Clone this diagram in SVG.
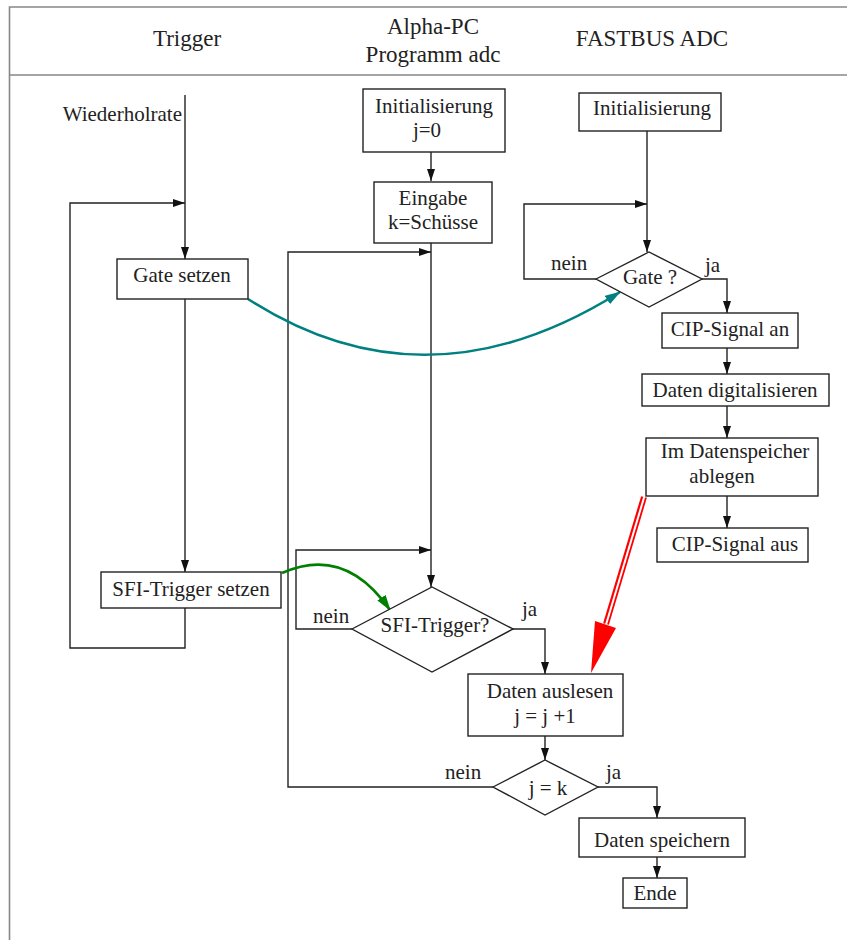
<svg xmlns="http://www.w3.org/2000/svg" width="847" height="940" viewBox="0 0 847 940" font-family="'Liberation Serif', 'DejaVu Serif', serif">
<style>
text{font-family:'Liberation Serif','DejaVu Serif',serif;font-size:21px;fill:#222}
.h{font-size:23px}
.c{text-anchor:middle}
.box{fill:#fff;stroke:#222;stroke-width:1.4}
.ln{fill:none;stroke:#222;stroke-width:1.4}
.frame{fill:none;stroke:#888;stroke-width:1.6}
</style>
<defs>
<marker id="a" markerWidth="12" markerHeight="8" refX="12" refY="4" orient="auto" markerUnits="userSpaceOnUse"><path d="M0,0 L12,4 L0,8 z" fill="#111"/></marker>
<marker id="t" markerWidth="16" markerHeight="10" refX="15" refY="5" orient="auto" markerUnits="userSpaceOnUse"><path d="M0,0 L16,5 L0,10 z" fill="#008080"/></marker>
<marker id="g" markerWidth="16" markerHeight="10" refX="15" refY="5" orient="auto" markerUnits="userSpaceOnUse"><path d="M0,0 L16,5 L0,10 z" fill="#008000"/></marker>
</defs>

<g id="frame">
<path class="frame" d="M847,7 H9.5 V940 M9.5,75 H847"/>
<text class="h c" x="187" y="46">Trigger</text>
<text class="h c" x="433" y="34">Alpha-PC</text>
<text class="h c" x="433" y="62">Programm adc</text>
<text class="h c" x="652" y="46">FASTBUS ADC</text>
</g>

<g id="connectors">
<path class="ln" d="M185,95 V259" marker-end="url(#a)"/>
<path class="ln" d="M185,608 V648 H70 V203 H185" marker-end="url(#a)"/>
<path class="ln" d="M185,299 V572" marker-end="url(#a)"/>
<path class="ln" d="M431,152 V181" marker-end="url(#a)"/>
<path class="ln" d="M431,243 V587" marker-end="url(#a)"/>
<path class="ln" d="M493,787 H288 V252 H431" marker-end="url(#a)"/>
<path class="ln" d="M352,629 H296 V550 H431" marker-end="url(#a)"/>
<path class="ln" d="M513,629 H545 V674" marker-end="url(#a)"/>
<path class="ln" d="M545,736 V760" marker-end="url(#a)"/>
<path class="ln" d="M598,787 H657 V818" marker-end="url(#a)"/>
<path class="ln" d="M657,857 V878" marker-end="url(#a)"/>
<path class="ln" d="M647,131 V252" marker-end="url(#a)"/>
<path class="ln" d="M596,279 H524 V204 H647" marker-end="url(#a)"/>
<path class="ln" d="M702,279 H727 V313" marker-end="url(#a)"/>
<path class="ln" d="M727,348 V374" marker-end="url(#a)"/>
<path class="ln" d="M727,406 V438" marker-end="url(#a)"/>
<path class="ln" d="M727,496 V528" marker-end="url(#a)"/>
<path d="M248,299 Q426,414 620,292" fill="none" stroke="#008080" stroke-width="2.6" marker-end="url(#t)"/>
<path d="M282,573 Q345,545 390,610" fill="none" stroke="#008000" stroke-width="2.6" marker-end="url(#g)"/>
<path d="M644,497 L606,624" fill="none" stroke="#f00" stroke-width="6"/>
<path d="M644.5,496 L605,628" fill="none" stroke="#fff" stroke-width="2"/>
<path d="M591,673 L616,628 L595,621 z" fill="#f00"/>
</g>

<g id="n-wiederholrate"><text x="182" y="121" text-anchor="end">Wiederholrate</text></g>
<g id="n-gate-setzen"><rect class="box" x="117" y="259" width="131" height="40"/><text class="c" x="182" y="282">Gate setzen</text></g>
<g id="n-sfi-setzen"><rect class="box" x="101" y="572" width="180" height="36"/><text class="c" x="191" y="596">SFI-Trigger setzen</text></g>

<g id="n-init-pc"><rect class="box" x="363" y="89" width="142" height="63"/><text class="c" x="434" y="113">Initialisierung</text><text class="c" x="427" y="137">j=0</text></g>
<g id="n-eingabe"><rect class="box" x="374" y="182" width="118" height="61"/><text class="c" x="433" y="205">Eingabe</text><text class="c" x="433" y="229">k=Schüsse</text></g>
<g id="n-sfi-q"><polygon class="box" points="352,629 432,587 513,629 432,672"/><text class="c" x="435" y="632">SFI-Trigger?</text>
<text x="313" y="623">nein</text><text x="522" y="616">ja</text></g>
<g id="n-auslesen"><rect class="box" x="468" y="674" width="155" height="62"/><text class="c" x="550" y="698">Daten auslesen</text><text class="c" x="545" y="723">j = j +1</text></g>
<g id="n-jk"><polygon class="box" points="493,787 545,760 598,787 545,815"/><text class="c" x="548" y="795">j = k</text>
<text x="445" y="779">nein</text><text x="606" y="779">ja</text></g>
<g id="n-speichern"><rect class="box" x="579" y="818" width="166" height="39"/><text class="c" x="662" y="847">Daten speichern</text></g>
<g id="n-ende"><rect class="box" x="623" y="878" width="64" height="30"/><text class="c" x="655" y="900">Ende</text></g>

<g id="n-init-adc"><rect class="box" x="579" y="93" width="142" height="38"/><text class="c" x="652" y="115">Initialisierung</text></g>
<g id="n-gate-q"><polygon class="box" points="596,279 649,252 702,279 649,307"/><text class="c" x="650" y="284">Gate ?</text>
<text x="551" y="270">nein</text><text x="705" y="272">ja</text></g>
<g id="n-cip-an"><rect class="box" x="662" y="313" width="136" height="35"/><text class="c" x="730" y="336">CIP-Signal an</text></g>
<g id="n-digit"><rect class="box" x="642" y="374" width="187" height="32"/><text class="c" x="735" y="397">Daten digitalisieren</text></g>
<g id="n-ablegen"><rect class="box" x="646" y="438" width="172" height="58"/><text class="c" x="735" y="458">Im Datenspeicher</text><text class="c" x="722" y="483">ablegen</text></g>
<g id="n-cip-aus"><rect class="box" x="657" y="528" width="151" height="34"/><text class="c" x="735" y="551">CIP-Signal aus</text></g>
</svg>
